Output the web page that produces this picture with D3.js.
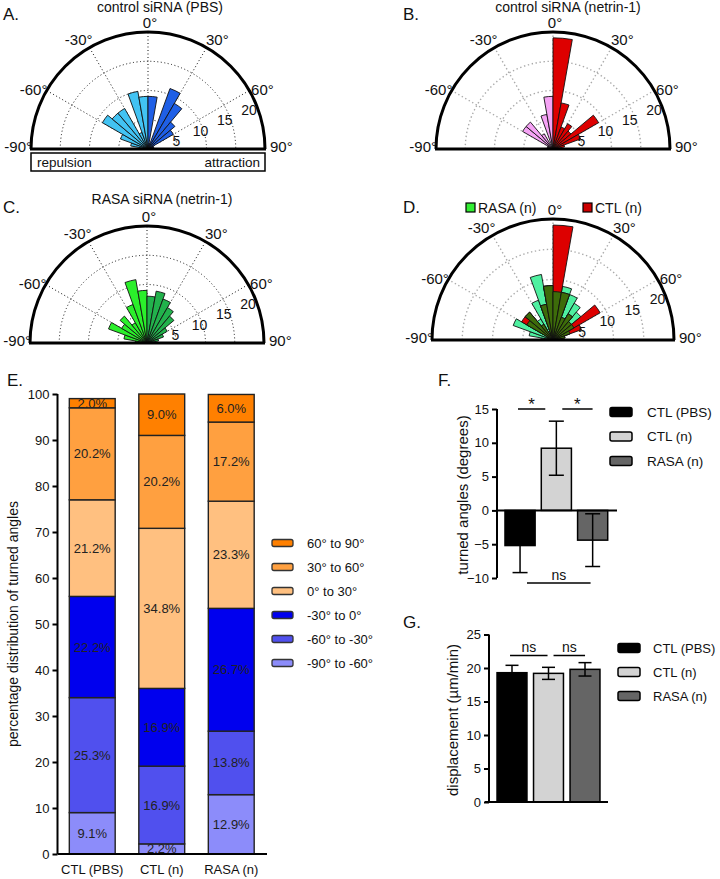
<!DOCTYPE html>
<html><head><meta charset="utf-8">
<script src="https://cdn.jsdelivr.net/npm/d3@7"></script>
<style>
body{margin:0;background:#fff}
svg{display:block}
text{font-family:"Liberation Sans",Arial,sans-serif;fill:#111}
</style>
</head><body><svg id="c" width="720" height="879"></svg>
<script>
// ---------- data ----------
const binStarts = d3.range(-90, 90, 10);            // 10-degree bins
const rosePBS   = [1,3,5, 9,8,8, 3,10,9, 9,1,11, 9,6,5, 1,1,0];
const roseCTLn  = [0,1,1, 6,6,3, 0,6,9, 19,8,4, 5,4,9, 5,2,1];
const roseRASAn = [2,4,7, 5,6,4, 7,11,9, 8,9,8, 7,6,4, 3,2,1];
const ringTicks = [5,10,15,20];
const spokeAngles = [-60,-30,0,30,60];
const angleTicks = [-60,-30,0,30,60];

const groups = ["CTL (PBS)","CTL (n)","RASA (n)"];
const rangeNames = ["-90° to -60°","-60° to -30°","-30° to 0°","0° to 30°","30° to 60°","60° to 90°"];
const rangeColors = ["#8c8cfa","#5050ee","#0000ee","#ffc080","#ffa040","#ff8000"];
const segPBS   = [9,25,22,21,20,2];
const segCTLn  = [2.2,16.9,16.9,34.8,20.2,9.0];
const segRASAn = [12.9,13.8,26.7,23.3,17.2,6.0];
const labPBS   = ["9.1%","25.3%","22.2%","21.2%","20.2%","2.0%"];
const labCTLn  = ["2.2%","16.9%","16.9%","34.8%","20.2%","9.0%"];
const labRASAn = ["12.9%","13.8%","26.7%","23.3%","17.2%","6.0%"];
const eTicks = d3.range(0,101,10);

const barColors = ["#000000","#d3d3d3","#656565"];
const turnMean = [-5.2, 9.2, -4.4];
const turnSem  = [4.0, 4.0, 3.9];
const turnTicks = [-10,-5,0,5,10,15];
const dispMean = [19.3, 19.2, 19.8];
const dispSem  = [1.1, 0.9, 1.0];
const dispTicks = [0,5,10,15,20,25];

// ---------- setup ----------
const svg = d3.select("#c");
const rad = d => d*Math.PI/180;
const font = "Liberation Sans, Arial, sans-serif";

function txt(g, x, y, s, size, anchor, extra){
  const t = g.append("text").attr("x",x).attr("y",y).text(s)
    .style("font-size",size+"px").attr("text-anchor",anchor||"start");
  if(extra) extra(t);
  return t;
}

// ---------- polar rose ----------
function rose(cfg){
  const g = svg.append("g").attr("transform",`translate(${cfg.cx},${cfg.cy})`);
  const r = d3.scaleLinear().domain([0,20]).range([0,cfg.R]);
  const pt = (a, rr) => [rr*Math.sin(rad(a)), -rr*Math.cos(rad(a))];
  const grid = g.append("g").attr("fill","none").attr("stroke",cfg.grid)
    .attr("stroke-width",cfg.gridW).attr("stroke-dasharray",cfg.dash);
  ringTicks.slice(0,3).forEach(v=>{
    const rr = r(v);
    grid.append("path").attr("d",`M${-rr},0A${rr},${rr} 0 0 1 ${rr},0`);
  });
  spokeAngles.forEach(a=>{
    const p = pt(a, cfg.R);
    grid.append("line").attr("x1",0).attr("y1",0).attr("x2",p[0]).attr("y2",p[1]);
  });
  const arc = d3.arc().innerRadius(0);
  const wedge = (vals, colorFn) => {
    vals.forEach((v,i)=>{
      if(v<=0) return;
      g.append("path").attr("d", arc({outerRadius:r(v), startAngle:rad(binStarts[i]), endAngle:rad(binStarts[i]+10)}))
        .attr("fill", colorFn(i)).attr("stroke","#111").attr("stroke-width",0.9);
    });
  };
  cfg.layers.forEach(L => wedge(L.values, L.color));
  g.append("path").attr("d",`M${-cfg.R},0A${cfg.R},${cfg.R} 0 0 1 ${cfg.R},0`)
    .attr("fill","none").attr("stroke","#000").attr("stroke-width",3);
  g.append("line").attr("x1",-cfg.R-1).attr("x2",cfg.R+1).attr("y1",0).attr("y2",0)
    .attr("stroke","#000").attr("stroke-width",3);
  ringTicks.forEach(v=>{
    const rr = r(v);
    txt(g, 0.83*rr+4, -(0.36*rr-3), String(v), 14, "middle", t=>t.attr("dy","0.35em"));
  });
  angleTicks.forEach(a=>{
    const aa = a + Math.sign(a)*2.5;
    const p = pt(aa, a===0 ? cfg.R+9 : cfg.R+12);
    txt(g, p[0]+(a===0?2:0), p[1], a+"°", 15, "middle", t=>t.attr("dy","0.35em"));
  });
  txt(g, -cfg.R+1, -2, "-90°", 15, "end", t=>t.attr("dy","0.35em"));
  txt(g, cfg.R+5, -2, "90°", 15, "start", t=>t.attr("dy","0.35em"));
  return g;
}

const byNeg = (neg,pos) => i => binStarts[i] < 0 ? neg : pos;

rose({cx:148, cy:149, R:117, grid:"#111", gridW:1, dash:"1,2.5",
  layers:[{values:rosePBS, color:byNeg("#42c3f3","#1f5fe6")}]});
rose({cx:553, cy:149, R:117, grid:"#aaa", gridW:1.4, dash:"1.4,2.6",
  layers:[{values:roseCTLn, color:byNeg("#f5a3f5","#dd0000")}]});
rose({cx:147, cy:343, R:117, grid:"#111", gridW:1, dash:"1,2.5",
  layers:[{values:roseRASAn, color:byNeg("#2bef2b","#22b24c")}]});
const overlap = roseRASAn.map((v,i)=>Math.min(v, roseCTLn[i]));
rose({cx:553, cy:340, R:121, grid:"#aaa", gridW:1.4, dash:"1.4,2.6",
  layers:[{values:roseRASAn, color:()=>"#4ef0a0"},
          {values:roseCTLn, color:()=>"#dd0000"},
          {values:overlap, color:()=>"#3d6c0a"}]});

txt(svg, 3, 20, "A.", 17);
txt(svg, 403, 20, "B.", 17);
txt(svg, 3, 213, "C.", 17);
txt(svg, 403, 213, "D.", 17);
txt(svg, 160, 12, "control siRNA (PBS)", 14, "middle");
txt(svg, 568, 12, "control siRNA (netrin-1)", 14, "middle");
txt(svg, 162, 204, "RASA siRNA (netrin-1)", 14, "middle");
svg.append("rect").attr("x",31).attr("y",153).attr("width",234).attr("height",18)
  .attr("fill","none").attr("stroke","#000").attr("stroke-width",1.5);
txt(svg, 37, 167, "repulsion", 13.5);
txt(svg, 260, 167, "attraction", 13.5, "end");
svg.append("rect").attr("x",466).attr("y",203).attr("width",9).attr("height",9)
  .attr("fill","#33ee33").attr("stroke","#000").attr("stroke-width",1.2);
txt(svg, 478, 213, "RASA (n)", 14);
svg.append("rect").attr("x",583).attr("y",203).attr("width",9).attr("height",9)
  .attr("fill","#cc0000").attr("stroke","#000").attr("stroke-width",1.2);
txt(svg, 595, 213, "CTL (n)", 14);

// ---------- E: stacked bars ----------
const gE = svg.append("g");
const xE = d3.scaleBand().domain(groups).range([57.5,266]).paddingInner(0.34).paddingOuter(0.17);
const yE = d3.scaleLinear().domain([0,100]).range([854,394]);
const segs = [segPBS, segCTLn, segRASAn];
const labs = [labPBS, labCTLn, labRASAn];
groups.forEach((gname, gi)=>{
  let acc = 0;
  segs[gi].forEach((v, k)=>{
    const y0 = acc, y1 = acc+v; acc = y1;
    gE.append("rect").attr("x",xE(gname)).attr("width",xE.bandwidth())
      .attr("y",yE(y1)).attr("height",yE(y0)-yE(y1))
      .attr("fill",rangeColors[k]).attr("stroke","#222").attr("stroke-width",1.4);
  });
  acc = 0;
  segs[gi].forEach((v,k)=>{
    const mid = acc + v/2; acc += v;
    txt(gE, xE(gname)+xE.bandwidth()/2, yE(mid), labs[gi][k], 13, "middle",
      t=>t.attr("dy","0.35em").style("fill","#222"));
  });
});
const axE = gE.append("g").attr("transform","translate(57.5,0)")
  .call(d3.axisLeft(yE).tickValues(eTicks).tickSize(5).tickPadding(3));
axE.select(".domain").attr("stroke-width",2).attr("d",`M0,${yE(100)}V${yE(0)}`);
axE.selectAll(".tick line").attr("stroke-width",2);
axE.selectAll("text").style("font-size","13px").style("font-family",font).attr("fill","#111");
gE.append("line").attr("x1",57.5).attr("x2",267).attr("y1",yE(0)).attr("y2",yE(0))
  .attr("stroke","#000").attr("stroke-width",2);
groups.forEach(gname=>txt(gE, xE(gname)+xE.bandwidth()/2, 874, gname, 13, "middle"));
txt(svg, 0, 0, "percentage distribution of turned angles", 14, "middle",
  t=>t.attr("transform","translate(18,624) rotate(-90)"));
txt(svg, 7, 386, "E.", 17);
rangeNames.slice().reverse().forEach((nm, j)=>{
  const k = rangeNames.length-1-j;
  const y = 543 + j*24;
  svg.append("rect").attr("x",272).attr("y",y-3.5).attr("width",21).attr("height",7).attr("rx",2)
    .attr("fill",rangeColors[k]).attr("stroke","#333").attr("stroke-width",1.3);
  txt(svg, 307, y, nm, 13, "start", t=>t.attr("dy","0.35em"));
});

// ---------- F: turned angles ----------
const gF = svg.append("g");
const xF = d3.scaleBand().domain(groups).range([497,615.7]).paddingInner(0.17).paddingOuter(0.22);
const yF = d3.scaleLinear().domain([-10,15]).range([578,409]);
groups.forEach((gname,i)=>{
  const v = turnMean[i];
  gF.append("rect").attr("x",xF(gname)).attr("width",xF.bandwidth())
    .attr("y",yF(Math.max(0,v))).attr("height",Math.abs(yF(v)-yF(0)))
    .attr("fill",barColors[i]).attr("stroke","#000").attr("stroke-width",1.5);
});
groups.forEach((gname,i)=>{
  const cx = xF(gname)+xF.bandwidth()/2, v=turnMean[i], s=turnSem[i];
  gF.append("line").attr("x1",cx).attr("x2",cx).attr("y1",yF(v+s)).attr("y2",yF(v-s)).attr("stroke","#000").attr("stroke-width",1.5);
  [v+s, v-s].forEach(e=>gF.append("line").attr("x1",cx-7.5).attr("x2",cx+7.5).attr("y1",yF(e)).attr("y2",yF(e)).attr("stroke","#000").attr("stroke-width",1.5));
});
const axF = gF.append("g").attr("transform","translate(497,0)")
  .call(d3.axisLeft(yF).tickValues(turnTicks).tickSize(5).tickPadding(3));
axF.select(".domain").attr("stroke-width",2).attr("d",`M0,${yF(15)}V${yF(-10)}`);
axF.selectAll(".tick line").attr("stroke-width",2);
axF.selectAll("text").style("font-size","13px").style("font-family",font).attr("fill","#111");
gF.append("line").attr("x1",497).attr("x2",617).attr("y1",yF(0)).attr("y2",yF(0)).attr("stroke","#000").attr("stroke-width",2);
txt(svg, 0, 0, "turned angles (degrees)", 15, "middle", t=>t.attr("transform","translate(468,495) rotate(-90)"));
txt(svg, 438, 386, "F.", 17);
const xs = i => xF(groups[i]);
const sig = (x1,x2,y,label,ty,size)=>{
  gF.append("line").attr("x1",x1).attr("x2",x2).attr("y1",y).attr("y2",y).attr("stroke","#000").attr("stroke-width",1.5);
  txt(gF,(x1+x2)/2,ty,label,size,"middle");
};
sig(xs(0)+13, xs(1)+4, yF(15), "*", yF(15)+1, 17);
sig(xs(1)+21, xs(2)+15, yF(15), "*", yF(15)+1, 17);
sig(xs(0)+22, xs(2)+13, yF(-10)+5, "ns", yF(-10)+2, 14);

// ---------- G: displacement ----------
const gG = svg.append("g");
const xG = d3.scaleBand().domain(groups).range([489,608]).paddingInner(0.18).paddingOuter(0.22);
const yG = d3.scaleLinear().domain([0,25]).range([802,634.5]);
groups.forEach((gname,i)=>{
  gG.append("rect").attr("x",xG(gname)).attr("width",xG.bandwidth())
    .attr("y",yG(dispMean[i])).attr("height",yG(0)-yG(dispMean[i]))
    .attr("fill",barColors[i]).attr("stroke","#000").attr("stroke-width",1.5);
});
groups.forEach((gname,i)=>{
  const cx = xG(gname)+xG.bandwidth()/2, v=dispMean[i], s=dispSem[i];
  gG.append("line").attr("x1",cx).attr("x2",cx).attr("y1",yG(v+s)).attr("y2",yG(v-s)).attr("stroke","#000").attr("stroke-width",1.5);
  [v+s, v-s].forEach(e=>gG.append("line").attr("x1",cx-6.5).attr("x2",cx+6.5).attr("y1",yG(e)).attr("y2",yG(e)).attr("stroke","#000").attr("stroke-width",1.5));
});
const axG = gG.append("g").attr("transform","translate(489,0)")
  .call(d3.axisLeft(yG).tickValues(dispTicks).tickSize(5).tickPadding(3));
axG.select(".domain").attr("stroke-width",2).attr("d",`M0,${yG(25)}V${yG(0)}`);
axG.selectAll(".tick line").attr("stroke-width",2);
axG.selectAll("text").style("font-size","13px").style("font-family",font).attr("fill","#111");
gG.append("line").attr("x1",485).attr("x2",608).attr("y1",yG(0)).attr("y2",yG(0)).attr("stroke","#000").attr("stroke-width",2);
txt(svg, 0, 0, "displacement (µm/min)", 15, "middle", t=>t.attr("transform","translate(458,720) rotate(-90)"));
txt(svg, 403, 628, "G.", 17);
const xg = i => xG(groups[i]);
const sigG = (x1,x2,y,label)=>{
  gG.append("line").attr("x1",x1).attr("x2",x2).attr("y1",y).attr("y2",y).attr("stroke","#000").attr("stroke-width",1.5);
  txt(gG,(x1+x2)/2,y-4,label,14,"middle");
};
sigG(xg(0)+13, xg(1)+14, yG(25)+21, "ns");
sigG(xg(1)+20, xg(2)+15, yG(25)+21, "ns");

function barLegend(x0, y0, step, tx, fs){
  groups.forEach((gname,i)=>{
    const y = y0 + i*step;
    svg.append("rect").attr("x",x0).attr("y",y-4.5).attr("width",22).attr("height",9).attr("rx",2)
      .attr("fill",barColors[i]).attr("stroke","#000").attr("stroke-width",1.5);
    txt(svg, tx, y, gname, fs, "start", t=>t.attr("dy","0.35em"));
  });
}
barLegend(610, 412, 24.5, 647, 13.5);
barLegend(618, 648, 24, 653, 13);
</script>
</body></html>
